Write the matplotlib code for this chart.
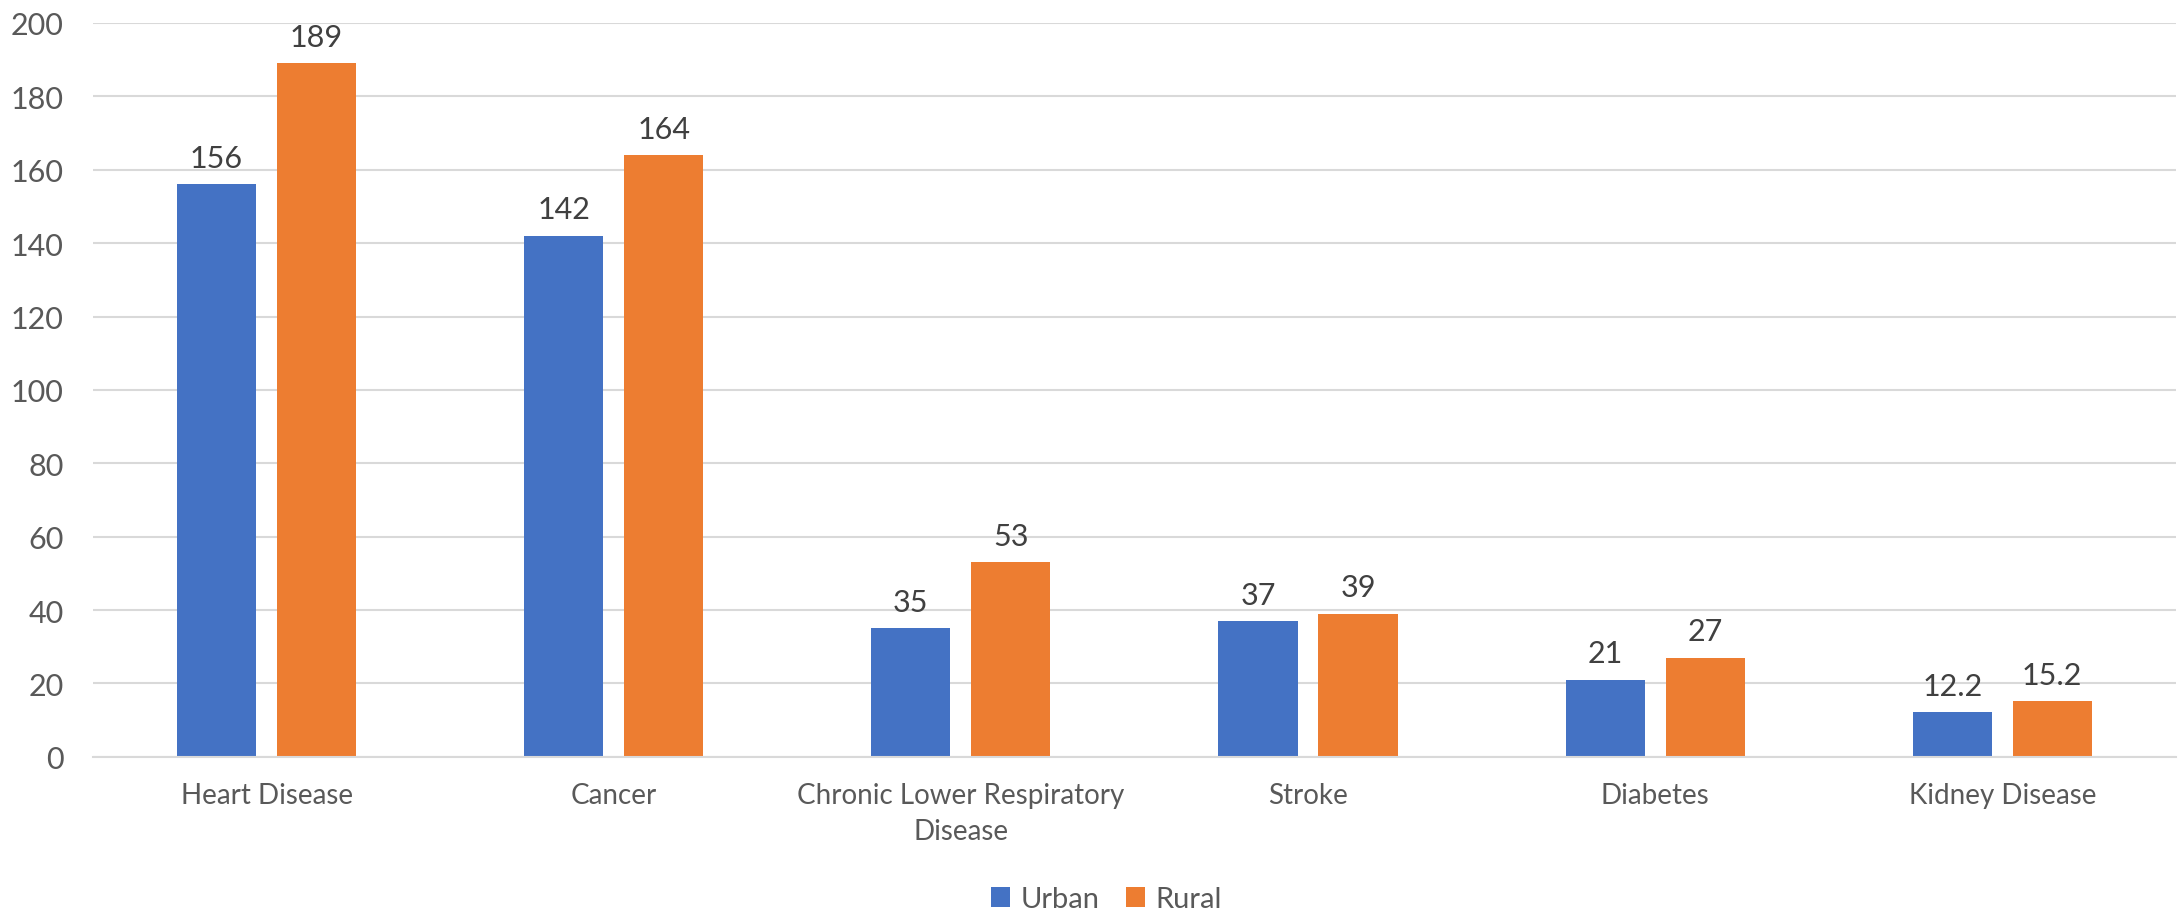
"""Urban vs rural death rates by cause, grouped bar chart."""

import matplotlib.pyplot as plt
import numpy as np

CAUSES = [
    "Heart Disease",
    "Cancer",
    "Chronic Lower Respiratory\nDisease",
    "Stroke",
    "Diabetes",
    "Kidney Disease",
]
URBAN = [156, 142, 35, 37, 21, 12.2]
RURAL = [189, 164, 53, 39, 27, 15.2]
Y_TICKS = [0, 20, 40, 60, 80, 100, 120, 140, 160, 180, 200]

BLUE = "#4472C4"
ORANGE = "#ED7D31"

plt.rcParams["font.family"] = ["Lato", "DejaVu Sans"]

fig = plt.figure(figsize=(21.78, 9.12), dpi=100)
ax = fig.add_axes([0.0427, 0.169, 0.9563, 0.8047])

x = np.arange(len(CAUSES))
width = 0.228
offset = 0.144

bars_u = ax.bar(x - offset, URBAN, width, color=BLUE, label="Urban", zorder=2)
bars_r = ax.bar(x + offset, RURAL, width, color=ORANGE, label="Rural", zorder=2)

for bars in (bars_u, bars_r):
    for b in bars:
        ax.annotate(f"{b.get_height():g}", (b.get_x() + b.get_width() / 2, b.get_height()),
                    xytext=(0, 9), textcoords="offset points",
                    ha="center", va="bottom", fontsize=22, color="#404040")

ax.set_xlim(-0.5, len(CAUSES) - 0.5)
ax.set_ylim(0, 200)
ax.set_yticks(Y_TICKS)
ax.yaxis.grid(True, color="#d9d9d9", linewidth=1.5, zorder=0)
ax.set_axisbelow(True)
ax.set_xticks(x)
ax.set_xticklabels(CAUSES, fontsize=20, color="#595959", linespacing=1.5)
ax.tick_params(axis="y", labelsize=22, labelcolor="#595959", length=0, pad=21)
ax.tick_params(axis="x", length=0, pad=18)
for side in ("top", "right", "left"):
    ax.spines[side].set_visible(False)
ax.spines["bottom"].set_color("#d9d9d9")
ax.spines["bottom"].set_linewidth(1.5)

fig.legend(loc="lower center", bbox_to_anchor=(0.508, -0.03), ncol=2, frameon=False,
           fontsize=21, labelcolor="#595959", handlelength=0.65, handleheight=0.65,
           handletextpad=0.35, columnspacing=0.9)

fig.savefig("out.png", dpi=100)
